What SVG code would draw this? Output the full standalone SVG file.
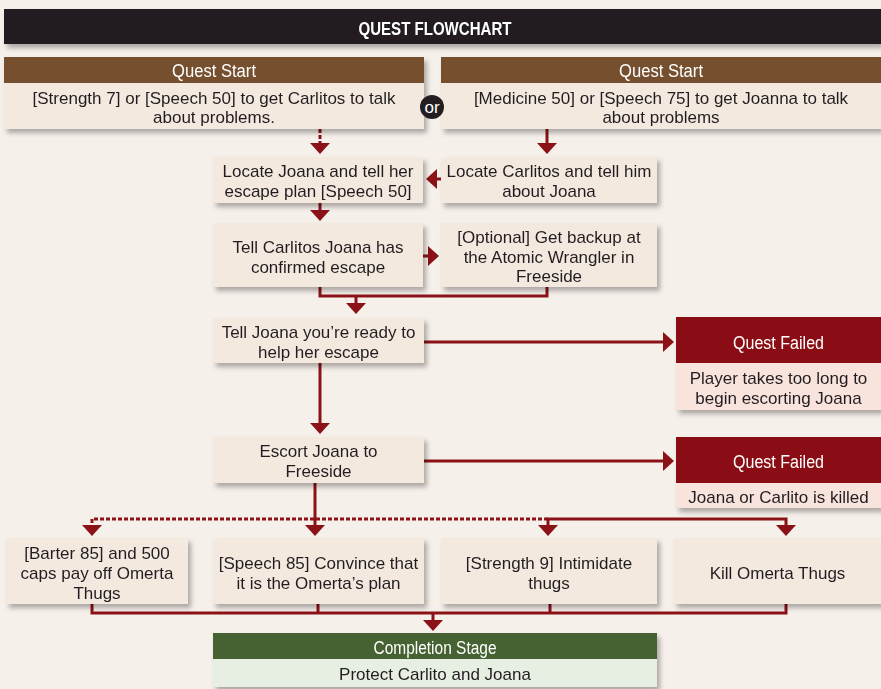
<svg xmlns="http://www.w3.org/2000/svg" xmlns:xlink="http://www.w3.org/1999/xlink" width="881" height="689" viewBox="0 0 881 689">
<style>
  text { font-family: "Liberation Sans", Arial, sans-serif; font-size: 17px; fill: #231f20; text-anchor: middle; }
  .wt { fill: #ffffff; }
  .hd { fill: #ffffff; font-size: 18px; }
  .title { font-weight: bold; font-size: 18.5px; fill: #ffffff; }
  .box { fill: #f3e9df; }
  .brown { fill: #76502f; }
  .red { fill: #8a0f14; }
  .pink { fill: #f8e3dd; }
  .green { fill: #476233; }
  .lgreen { fill: #e7efe3; }
  .ln { fill: none; stroke: #8b1217; stroke-width: 3; }
  .dash { stroke-dasharray: 4 2; }
  .ah { fill: #8b1217; }
</style>
<defs>
  <filter id="sh" x="-10%" y="-20%" width="125%" height="160%">
    <feDropShadow dx="3" dy="4" stdDeviation="2.5" flood-color="#000000" flood-opacity="0.3"/>
  </filter>
  <polygon id="ahd" points="-10,0 10,0 0,11"/>
  <polygon id="ahl" points="0,-10 0,10 -11,0"/>
  <polygon id="ahr" points="0,-10 0,10 11,0"/>
</defs>
<rect x="0" y="0" width="881" height="689" fill="#f6f0eb"/>

<g id="header" filter="url(#sh)">
  <rect x="4" y="9" width="877" height="35" fill="#231f20"/>
  <text class="title" x="435" y="35" textLength="153" lengthAdjust="spacingAndGlyphs">QUEST FLOWCHART</text>
</g>

<g id="connectors">
  <path class="ln dash" d="M320,129 V143"/>
  <use href="#ahd" class="ah" x="320" y="143"/>
  <path class="ln" d="M547,129 V143"/>
  <use href="#ahd" class="ah" x="547" y="143"/>
  <path class="ln" d="M441,179 H436"/>
  <use href="#ahl" class="ah" x="437" y="179"/>
  <path class="ln" d="M320,203 V210"/>
  <use href="#ahd" class="ah" x="320" y="210"/>
  <path class="ln" d="M423,256 H429"/>
  <use href="#ahr" class="ah" x="428" y="256"/>
  <path class="ln" d="M320,287 V296 H547 V287 M356,296 V304"/>
  <use href="#ahd" class="ah" x="356" y="303"/>
  <path class="ln" d="M424,342 H664"/>
  <use href="#ahr" class="ah" x="663" y="342"/>
  <path class="ln" d="M320,363 V424"/>
  <use href="#ahd" class="ah" x="320" y="423"/>
  <path class="ln" d="M424,461 H664"/>
  <use href="#ahr" class="ah" x="663" y="461"/>
  <path class="ln" d="M315,483 V526"/>
  <use href="#ahd" class="ah" x="315" y="525"/>
  <path class="ln dash" d="M548,519 H92 V526"/>
  <use href="#ahd" class="ah" x="92" y="525"/>
  <path class="ln" d="M548,526 V519 H786 V526"/>
  <use href="#ahd" class="ah" x="548" y="525"/>
  <use href="#ahd" class="ah" x="786" y="525"/>
  <path class="ln" d="M92,604 V613 H786 V604 M318,604 V613 M550,604 V613 M433,613 V621"/>
  <use href="#ahd" class="ah" x="433" y="620"/>
</g>

<g id="start-left" filter="url(#sh)">
  <rect class="brown" x="4" y="57" width="420" height="26"/>
  <rect class="box" x="4" y="83" width="420" height="46"/>
  <text class="hd" x="214" y="77" textLength="84" lengthAdjust="spacingAndGlyphs">Quest Start</text>
  <text x="214" y="103.5">[Strength 7] or [Speech 50] to get Carlitos to talk</text>
  <text x="214" y="123">about problems.</text>
</g>

<g id="start-right" filter="url(#sh)">
  <rect class="brown" x="441" y="57" width="440" height="26"/>
  <rect class="box" x="441" y="83" width="440" height="46"/>
  <text class="hd" x="661" y="77" textLength="84" lengthAdjust="spacingAndGlyphs">Quest Start</text>
  <text x="661" y="103.5">[Medicine 50] or [Speech 75] to get Joanna to talk</text>
  <text x="661" y="123">about problems</text>
</g>

<g id="or">
  <circle cx="432" cy="107" r="12" fill="#231f20"/>
  <text class="wt" x="432" y="113">or</text>
</g>

<g id="locate-joana" filter="url(#sh)">
  <rect class="box" x="213" y="157" width="210" height="46"/>
  <text x="318" y="177">Locate Joana and tell her</text>
  <text x="318" y="197">escape plan [Speech 50]</text>
</g>

<g id="locate-carlitos" filter="url(#sh)">
  <rect class="box" x="441" y="157" width="216" height="46"/>
  <text x="549" y="177">Locate Carlitos and tell him</text>
  <text x="549" y="197">about Joana</text>
</g>

<g id="tell-carlitos" filter="url(#sh)">
  <rect class="box" x="213" y="223" width="210" height="64"/>
  <text x="318" y="253">Tell Carlitos Joana has</text>
  <text x="318" y="273">confirmed escape</text>
</g>

<g id="optional-backup" filter="url(#sh)">
  <rect class="box" x="441" y="223" width="216" height="64"/>
  <text x="549" y="243">[Optional] Get backup at</text>
  <text x="549" y="262.5">the Atomic Wrangler in</text>
  <text x="549" y="282">Freeside</text>
</g>

<g id="tell-joana" filter="url(#sh)">
  <rect class="box" x="213" y="318" width="211" height="45"/>
  <text x="318.5" y="338">Tell Joana you’re ready to</text>
  <text x="318.5" y="358">help her escape</text>
</g>

<g id="failed-1" filter="url(#sh)">
  <rect class="red" x="676" y="317" width="205" height="46"/>
  <rect class="pink" x="676" y="363" width="205" height="47"/>
  <text class="hd" x="778.5" y="348.5" textLength="91" lengthAdjust="spacingAndGlyphs">Quest Failed</text>
  <text x="778.5" y="384">Player takes too long to</text>
  <text x="778.5" y="403.5">begin escorting Joana</text>
</g>

<g id="escort" filter="url(#sh)">
  <rect class="box" x="213" y="437" width="211" height="46"/>
  <text x="318.5" y="457">Escort Joana to</text>
  <text x="318.5" y="476.5">Freeside</text>
</g>

<g id="failed-2" filter="url(#sh)">
  <rect class="red" x="676" y="437" width="205" height="46"/>
  <rect class="pink" x="676" y="483" width="205" height="25"/>
  <text class="hd" x="778.5" y="467.5" textLength="91" lengthAdjust="spacingAndGlyphs">Quest Failed</text>
  <text x="778.5" y="503">Joana or Carlito is killed</text>
</g>

<g id="barter" filter="url(#sh)">
  <rect class="box" x="6" y="538" width="182" height="66"/>
  <text x="97" y="559">[Barter 85] and 500</text>
  <text x="97" y="579">caps pay off Omerta</text>
  <text x="97" y="598.5">Thugs</text>
</g>

<g id="speech" filter="url(#sh)">
  <rect class="box" x="213" y="538" width="211" height="66"/>
  <text x="318.5" y="569">[Speech 85] Convince that</text>
  <text x="318.5" y="588.5">it is the Omerta’s plan</text>
</g>

<g id="strength" filter="url(#sh)">
  <rect class="box" x="441" y="538" width="216" height="66"/>
  <text x="549" y="569">[Strength 9] Intimidate</text>
  <text x="549" y="588.5">thugs</text>
</g>

<g id="kill" filter="url(#sh)">
  <rect class="box" x="674" y="538" width="207" height="66"/>
  <text x="777.5" y="579">Kill Omerta Thugs</text>
</g>

<g id="completion" filter="url(#sh)">
  <rect class="green" x="213" y="633" width="444" height="26"/>
  <rect class="lgreen" x="213" y="659" width="444" height="28"/>
  <text class="hd" x="435" y="653.5" textLength="123" lengthAdjust="spacingAndGlyphs">Completion Stage</text>
  <text x="435" y="680">Protect Carlito and Joana</text>
</g>
</svg>
